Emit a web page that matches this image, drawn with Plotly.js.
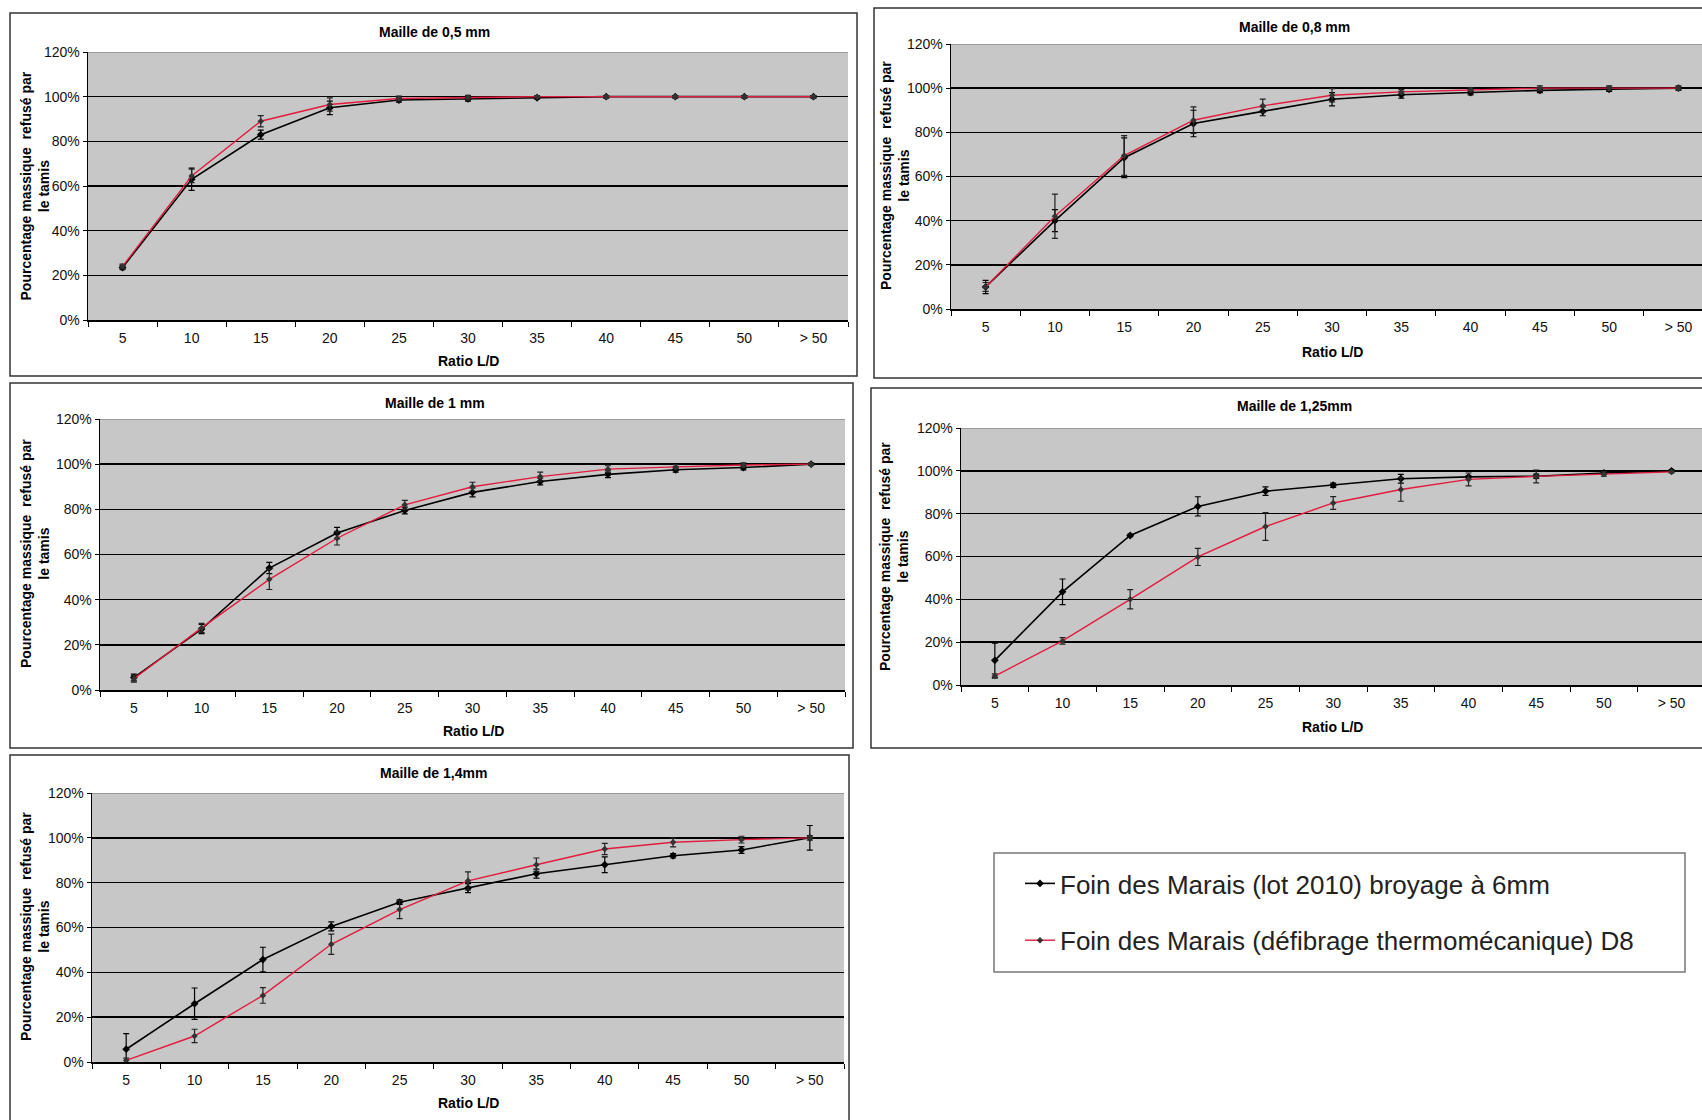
<!DOCTYPE html>
<html>
<head>
<meta charset="utf-8">
<script src="https://cdn.plot.ly/plotly-3.0.1.min.js"></script>
<style>
html,body{margin:0;padding:0;background:#fff;}
#chart{width:1702px;height:1120px;}
</style>
</head>
<body>
<div id="chart"></div>
<script>
// ---------------- DATA ----------------
const categories = ['5','10','15','20','25','30','35','40','45','50','> 50'];
const yTickVals = [0,20,40,60,80,100,120];
const yTickLabels = ['0%','20%','40%','60%','80%','100%','120%'];
const seriesNames = ['Foin des Marais (lot 2010) broyage à 6mm',
                     'Foin des Marais (défibrage thermomécanique) D8'];
const panelTitles = ['Maille de 0,5 mm','Maille de 0,8 mm','Maille de 1 mm','Maille de 1,25mm','Maille de 1,4mm'];
const xTitle = 'Ratio L/D';
const yTitle = 'Pourcentage massique  refusé par<br>le tamis';

// Maille 0,5 mm
const lot_05    = [23.5, 63, 83, 95, 98.5, 99, 99.5, 100, 100, 100, 100];
const lot_05Err = [1, 5, 2, 3, 1, 1, 0.5, 0.5, 0.5, 0.5, 0.5];
const d8_05     = [24, 64.5, 89, 96.5, 99.2, 99.6, 100, 100, 100, 100, 100];
const d8_05Err  = [1, 3, 2.5, 3, 1, 1, 0.5, 0.5, 0.5, 0.5, 0.5];
// Maille 0,8 mm
const lot_08    = [10, 40, 68.5, 84, 89.5, 95, 97, 98, 99, 99.5, 100];
const lot_08Err = [3, 5, 9, 6, 2, 3, 1.5, 1, 1, 1, 0.5];
const d8_08     = [10, 42, 69.5, 85.5, 92, 96.8, 98.3, 99.3, 100, 100, 100];
const d8_08Err  = [2, 10, 9, 6, 3, 3, 1, 1, 1, 1, 1];
// Maille 1 mm
const lot_10    = [5.5, 27, 54, 69.5, 79.5, 87.5, 92.3, 95.5, 97.5, 98.5, 100];
const lot_10Err = [1.5, 2, 2.5, 2.5, 1.5, 2, 1.5, 1.5, 1, 1, 0.5];
const d8_10     = [5, 27.5, 49, 67.2, 82, 90, 94.5, 97.8, 98.8, 99.6, 100];
const d8_10Err  = [1.5, 2, 4.5, 3, 2, 2, 2, 1.5, 1, 1, 0.5];
// Maille 1,25 mm
const lot_125    = [11.5, 43.5, 69.8, 83.4, 90.5, 93.3, 96.3, 97.2, 97.5, 99, 100];
const lot_125Err = [8, 6, 0.5, 4.5, 2, 1, 2, 0.5, 1, 0.5, 0.5];
const d8_125     = [4.2, 20.6, 40, 59.8, 74, 85, 91.3, 96, 97.4, 98.5, 99.5];
const d8_125Err  = [1, 1.5, 4.5, 4, 6.5, 3, 5.5, 3, 3, 1, 0.5];
// Maille 1,4 mm
const lot_14    = [5.7, 26, 45.7, 60.5, 71.3, 77.6, 84, 88, 92, 94.6, 100];
const lot_14Err = [7, 7, 5.5, 2, 1, 2, 2, 3.5, 1, 1.5, 5.5];
const d8_14     = [0.7, 11.6, 29.7, 52.5, 68, 80.8, 88, 95, 98, 99.2, 100];
const d8_14Err  = [1, 3, 3.5, 4.5, 4, 4, 3, 2.5, 2, 1.5, 1];

// ---------------- LAYOUT HELPERS ----------------
const W = 1702, H = 1120;
const px = x => x / W;
const py = y => 1 - y / H;

const panelData = [
  {lot: lot_05,  lotErr: lot_05Err,  d8: d8_05,  d8Err: d8_05Err},
  {lot: lot_08,  lotErr: lot_08Err,  d8: d8_08,  d8Err: d8_08Err},
  {lot: lot_10,  lotErr: lot_10Err,  d8: d8_10,  d8Err: d8_10Err},
  {lot: lot_125, lotErr: lot_125Err, d8: d8_125, d8Err: d8_125Err},
  {lot: lot_14,  lotErr: lot_14Err,  d8: d8_14,  d8Err: d8_14Err}
];

// geometry (pixels): plot area, panel frame, text anchors
const geo = [
  {pl:88,  pr:848,  pt:52,  pb:320,  xEnd:10.5,  fr:[10,13,857,376],   tt:[435,32],   xt:[469,361],  yt:[34.5,186]},
  {pl:951, pr:1702, pt:44,  pb:309,  xEnd:10.34, fr:[874,8,1712,378],  tt:[1294,27],  xt:[1332,352], yt:[895,176]},
  {pl:100, pr:845,  pt:419, pb:690,  xEnd:10.5,  fr:[10,383,853,748],  tt:[435,403],  xt:[473,731],  yt:[35,554]},
  {pl:961, pr:1702, pt:428, pb:685,  xEnd:10.45, fr:[871,388,1712,748],tt:[1294,406], xt:[1332,727], yt:[894,556]},
  {pl:92,  pr:844,  pt:793, pb:1062, xEnd:10.5,  fr:[10,755,849,1130], tt:[433,773],  xt:[469,1103], yt:[35,927]}
];

const narrow = "'Liberation Sans Narrow', 'Arial Narrow', 'Liberation Sans', Arial, sans-serif";
const regular = "'Liberation Sans', Arial, sans-serif";
const tickFont = {family: narrow, size: 14, color: '#111'};

const traces = [];
const layout = {
  width: W, height: H,
  margin: {l:0, r:0, t:0, b:0},
  paper_bgcolor: '#ffffff',
  plot_bgcolor: '#c7c7c7',
  showlegend: true,
  legend: {
    x: px(1020), y: py(860), xanchor: 'left', yanchor: 'top',
    bgcolor: 'rgba(0,0,0,0)', borderwidth: 0,
    font: {family: regular, size: 26, color: '#222'},
    tracegroupgap: 20, traceorder: 'grouped'
  },
  shapes: [],
  annotations: []
};

panelData.forEach((p, i) => {
  const s = i === 0 ? '' : String(i + 1);
  const g = geo[i];
  traces.push({
    type: 'scatter', mode: 'lines+markers',
    x: categories, y: p.lot, xaxis: 'x' + s, yaxis: 'y' + s,
    name: seriesNames[0], legendgroup: 'lot', showlegend: i === 0,
    line: {color: '#000', width: 1.6},
    marker: {symbol: 'diamond', size: 6, color: '#000'},
    error_y: {type: 'data', array: p.lotErr, visible: true, color: '#000', thickness: 1.2, width: 3}
  });
  traces.push({
    type: 'scatter', mode: 'lines+markers',
    x: categories, y: p.d8, xaxis: 'x' + s, yaxis: 'y' + s,
    name: seriesNames[1], legendgroup: 'd8', showlegend: i === 0,
    line: {color: '#e31b3d', width: 1.4},
    marker: {symbol: 'diamond', size: 5, color: '#333'},
    error_y: {type: 'data', array: p.d8Err, visible: true, color: '#222', thickness: 1.2, width: 3}
  });

  layout['xaxis' + s] = {
    domain: [px(g.pl), px(g.pr)], anchor: 'y' + s,
    type: 'category', range: [-0.5, g.xEnd],
    tickson: 'boundaries', ticks: 'outside', ticklen: 5, tickcolor: '#000', tickwidth: 1,
    ticklabelstandoff: 5,
    showline: true, linecolor: '#000', linewidth: 1.5,
    showgrid: false, zeroline: false,
    tickfont: tickFont, fixedrange: true
  };
  layout['yaxis' + s] = {
    domain: [py(g.pb), py(g.pt)], anchor: 'x' + s,
    range: [0, 120], tickmode: 'array', tickvals: yTickVals, ticktext: yTickLabels,
    ticks: 'outside', ticklen: 4, tickcolor: '#000',
    showline: true, linecolor: '#000', linewidth: 1.5,
    showgrid: true, gridcolor: '#000', gridwidth: 1.5, zeroline: false,
    tickfont: tickFont, fixedrange: true
  };

  // panel frame
  layout.shapes.push({type: 'rect', xref: 'paper', yref: 'paper', layer: 'below',
    x0: px(g.fr[0]), y0: py(g.fr[1]), x1: px(g.fr[2]), y1: py(g.fr[3]),
    line: {color: '#333', width: 1.5}, fillcolor: 'rgba(0,0,0,0)'});
  // lighter top edge at 120%
  layout.shapes.push({type: 'line', xref: 'x' + s + ' domain', yref: 'y' + s, layer: 'above',
    x0: 0, x1: 1, y0: 120, y1: 120, line: {color: '#9a9a9a', width: 2}});

  layout.annotations.push({xref: 'paper', yref: 'paper', x: px(g.tt[0]), y: py(g.tt[1]),
    text: '<b>' + panelTitles[i] + '</b>', showarrow: false, xanchor: 'center', yanchor: 'middle',
    font: {family: narrow, size: 14, color: '#000'}});
  layout.annotations.push({xref: 'paper', yref: 'paper', x: px(g.xt[0]), y: py(g.xt[1]),
    text: '<b>' + xTitle + '</b>', showarrow: false, xanchor: 'center', yanchor: 'middle',
    font: {family: narrow, size: 14, color: '#000'}});
  layout.annotations.push({xref: 'paper', yref: 'paper', x: px(g.yt[0]), y: py(g.yt[1]),
    text: '<b>' + yTitle + '</b>', showarrow: false, xanchor: 'center', yanchor: 'middle',
    textangle: -90, font: {family: regular, size: 14, color: '#000'}});
});

// legend frame
layout.shapes.push({type: 'rect', xref: 'paper', yref: 'paper', layer: 'below',
  x0: px(994), y0: py(853), x1: px(1685), y1: py(972),
  line: {color: '#777', width: 1.5}, fillcolor: '#ffffff'});

Plotly.newPlot('chart', traces, layout, {displayModeBar: false, staticPlot: true});
</script>
</body>
</html>
